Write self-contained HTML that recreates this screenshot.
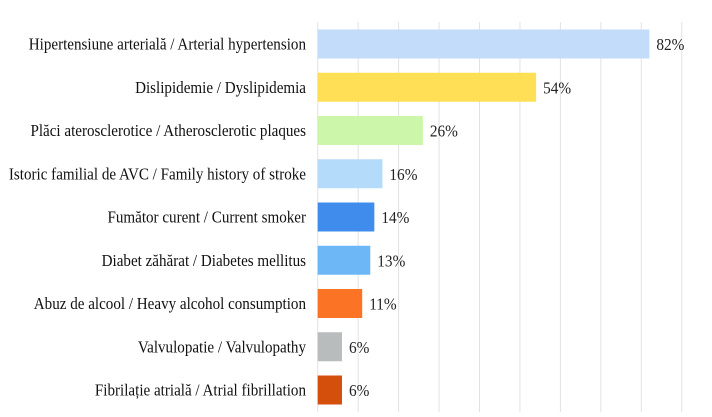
<!DOCTYPE html>
<html><head><meta charset="utf-8"><style>
body{margin:0;background:#fff;width:712px;height:412px;overflow:hidden;font-family:"Liberation Serif",serif}
</style></head><body>
<svg id="chart" width="712" height="412" xmlns="http://www.w3.org/2000/svg"></svg>
<script>
const categories=["Hipertensiune arterială / Arterial hypertension","Dislipidemie / Dyslipidemia","Plăci aterosclerotice / Atherosclerotic plaques","Istoric familial de AVC / Family history of stroke","Fumător curent / Current smoker","Diabet zăhărat / Diabetes mellitus","Abuz de alcool / Heavy alcohol consumption","Valvulopatie / Valvulopathy","Fibrilație atrială / Atrial fibrillation"];
const values=[82,54,26,16,14,13,11,6,6];
const colors=["#c2dcfa","#fedf55","#ccf7aa","#b5dbfa","#3f8ced","#6eb7f7","#fb7426","#b8bcbc","#d44e0c"];
const gridTicks=[0,10,20,30,40,50,60,70,80,90];
const svg=document.getElementById('chart');
const NS="http://www.w3.org/2000/svg";
const x0=317.7,pxPer=4.045;
const xs=v=>x0+v*pxPer;
const ys=i=>44+i*43.25;
function mk(t,a){const e=document.createElementNS(NS,t);for(const k in a)e.setAttribute(k,a[k]);svg.appendChild(e);return e;}
gridTicks.forEach(t=>{
  const l=mk('line',{x1:xs(t),x2:xs(t),y1:22,y2:412,stroke:'#e2e2e2','stroke-width':1});
  
  
});
categories.forEach((c,i)=>{
  const y=ys(i);
  const r=mk('rect',{x:x0,y:y-14.5,width:values[i]*pxPer,height:29,fill:colors[i]});
  
  
  const lab=mk('text',{x:0,y:0,'text-anchor':'end','font-size':'16.5',fill:'#111',transform:'translate(306,'+(y+5.5)+') scale(0.915,1)'});
  lab.textContent=c;
  
  
  const v=mk('text',{x:0,y:0,'font-size':'17',fill:'#222',transform:'translate('+(xs(values[i])+7)+','+(y+6)+') scale(0.9,1)'});
  v.textContent=values[i]+'%';
  
  
});
</script>
</body></html>
